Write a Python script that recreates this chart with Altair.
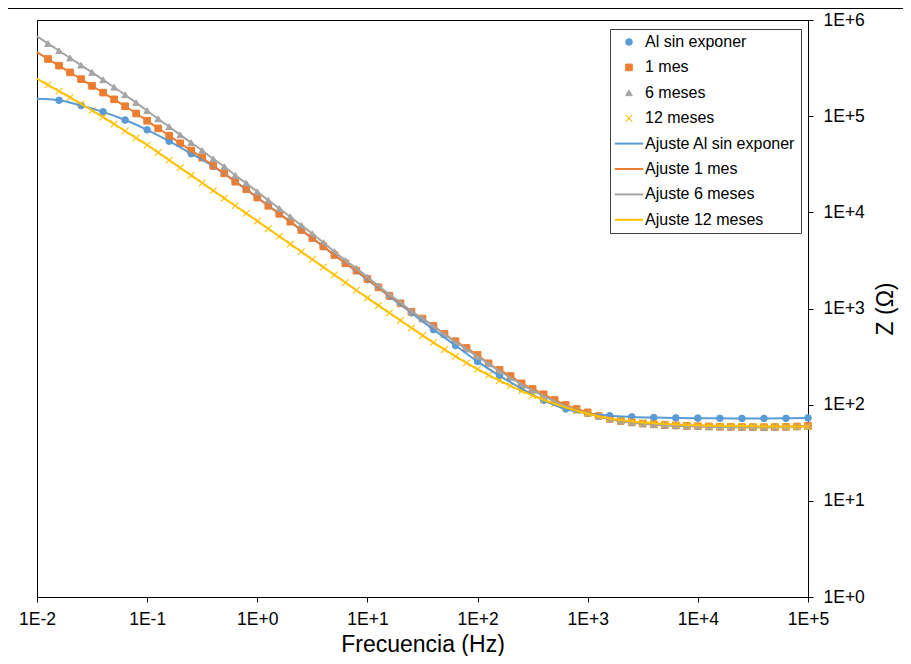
import altair as alt
import pandas as pd

# Frequency grids (exponents of 10): 10 points per decade, and 5 per decade for "Al sin exponer"
freq_exp_dense = [round(-2.0 + 0.1 * i, 1) for i in range(71)]
freq_exp_sparse = [round(-2.0 + 0.2 * i, 1) for i in range(36)]

# log10 |Z|
log_z_al = [5.18, 5.165, 5.11, 5.045, 4.96, 4.858, 4.74, 4.61, 4.478, 4.32,
            4.154, 3.985, 3.815, 3.643, 3.47, 3.30, 3.125, 2.955, 2.78, 2.615,
            2.448, 2.30, 2.168, 2.045, 1.955, 1.91, 1.885, 1.873, 1.866, 1.862,
            1.86, 1.858, 1.857, 1.857, 1.858, 1.862]

log_z_1mes = [5.665, 5.595, 5.525, 5.455, 5.385, 5.315, 5.245, 5.175, 5.103, 5.028,
              4.952, 4.873, 4.797, 4.718, 4.643, 4.568, 4.484, 4.406, 4.319, 4.24,
              4.154, 4.068, 3.985, 3.903, 3.816, 3.732, 3.646, 3.556, 3.47, 3.393,
              3.307, 3.22, 3.133, 3.054, 2.967, 2.895, 2.818, 2.735, 2.66, 2.59,
              2.517, 2.43, 2.361, 2.298, 2.222, 2.163, 2.108, 2.049, 1.997, 1.955,
              1.92, 1.882, 1.851, 1.83, 1.815, 1.803, 1.795, 1.788, 1.783, 1.779,
              1.776, 1.773, 1.77, 1.768, 1.767, 1.766, 1.766, 1.767, 1.769, 1.773,
              1.78]

log_z_6meses = [5.83, 5.755, 5.68, 5.605, 5.53, 5.455, 5.378, 5.301, 5.222, 5.14,
                5.057, 4.972, 4.89, 4.805, 4.724, 4.643, 4.556, 4.475, 4.385, 4.303,
                4.214, 4.125, 4.039, 3.954, 3.864, 3.777, 3.686, 3.591, 3.50, 3.418,
                3.327, 3.236, 3.145, 3.062, 2.971, 2.895, 2.815, 2.729, 2.651, 2.578,
                2.502, 2.425, 2.35, 2.28, 2.212, 2.148, 2.09, 2.035, 1.985, 1.943,
                1.908, 1.876, 1.85, 1.83, 1.815, 1.803, 1.794, 1.787, 1.781, 1.777,
                1.773, 1.77, 1.768, 1.766, 1.765, 1.765, 1.765, 1.766, 1.768, 1.771,
                1.776]

log_z_12meses = [5.39, 5.325, 5.26, 5.195, 5.128, 5.06, 4.99, 4.918, 4.846, 4.773,
                 4.70, 4.622, 4.543, 4.464, 4.385, 4.305, 4.226, 4.147, 4.068, 3.989,
                 3.91, 3.83, 3.75, 3.67, 3.59, 3.51, 3.43, 3.35, 3.27, 3.19,
                 3.11, 3.032, 2.954, 2.876, 2.798, 2.72, 2.645, 2.573, 2.503, 2.435,
                 2.37, 2.308, 2.25, 2.195, 2.143, 2.095, 2.05, 2.009, 1.971, 1.937,
                 1.906, 1.879, 1.857, 1.84, 1.826, 1.815, 1.806, 1.799, 1.793, 1.789,
                 1.785, 1.782, 1.78, 1.778, 1.776, 1.775, 1.774, 1.773, 1.772, 1.772,
                 1.772]

series_names = ["Al sin exponer", "1 mes", "6 meses", "12 meses"]
fit_names = ["Ajuste Al sin exponer", "Ajuste 1 mes", "Ajuste 6 meses", "Ajuste 12 meses"]
series_colors = ["#5B9BD5", "#ED7D31", "#A5A5A5", "#FFC000"]
marker_shapes = ["circle", "square", "triangle-up", "M-1,-1L1,1M-1,1L1,-1"]
fit_shape = "M-4.3,0H4.3"   # a horizontal line segment for the legend
marker_size = 44

x_ticks = [1e-2, 1e-1, 1e0, 1e1, 1e2, 1e3, 1e4, 1e5]
y_ticks = [1e0, 1e1, 1e2, 1e3, 1e4, 1e5, 1e6]

exps_list = [freq_exp_sparse, freq_exp_dense, freq_exp_dense, freq_exp_dense]
logs_list = [log_z_al, log_z_1mes, log_z_6meses, log_z_12meses]

frames = []
for k, (exps, logs) in enumerate(zip(exps_list, logs_list)):
    frames.append(pd.DataFrame({
        "f": [10 ** e for e in exps],
        "z": [10 ** v for v in logs],
        "serie": series_names[k],
        "order": k,
    }))
all_df = pd.concat(frames, ignore_index=True)
points_df = all_df[all_df["f"] > 0.0105].reset_index(drop=True)
points_df["idx"] = range(len(points_df))

legend_domain = series_names + fit_names
legend_colors = series_colors + series_colors
legend_shapes = marker_shapes + [fit_shape] * 4
legend_widths = [1, 1, 1, 1.1] + [2] * 4

label_expr = ("'1E' + (round(log(datum.value)/LN10) >= 0 ? '+' : '') + "
              "round(log(datum.value)/LN10)")

x_scale = alt.Scale(type="log", domain=[1e-2, 1e5], nice=False)
y_scale = alt.Scale(type="log", domain=[1, 1e6], nice=False)

x_axis = alt.Axis(values=x_ticks, labelExpr=label_expr, title="Frecuencia (Hz)",
                  titleFontSize=23, titleFontWeight="normal", labelFontSize=17.5,
                  tickSize=5, tickColor="black", domainColor="black",
                  labelColor="black", titleColor="black", grid=False,
                  labelPadding=8, titlePadding=6, labelFlush=False,
                  labelOverlap=False, labelBound=False)
y_axis = alt.Axis(orient="right", values=y_ticks, labelExpr=label_expr, title="Z (Ω)",
                  titleFontSize=23, titleFontWeight="normal", labelFontSize=17.5,
                  tickSize=5, tickColor="black", domainColor="black",
                  labelColor="black", titleColor="black", grid=False,
                  labelPadding=10, titlePadding=10, titleAngle=270, titleBaseline="top",
                  labelOverlap=False, labelBound=False, labelFlush=False)

x_enc = alt.X("f:Q", scale=x_scale, axis=x_axis)
y_enc = alt.Y("z:Q", scale=y_scale, axis=y_axis)

legend_cfg = alt.Legend(title=None, orient="none", legendX=573, legendY=9,
                        padding=5, strokeColor="#404040", fillColor="white",
                        labelFont="Liberation Sans", labelFontSize=16, labelColor="black",
                        symbolOffset=6, labelOffset=8, rowPadding=9.4, symbolOpacity=1,
                        symbolSize=marker_size, cornerRadius=0, labelLimit=300)

points = alt.Chart(points_df).mark_point(filled=True, opacity=1, size=marker_size).encode(
    x=x_enc,
    y=y_enc,
    fill=alt.Fill("serie:N", scale=alt.Scale(domain=legend_domain, range=legend_colors),
                  legend=legend_cfg),
    stroke=alt.Stroke("serie:N", scale=alt.Scale(domain=legend_domain, range=legend_colors),
                      legend=legend_cfg),
    shape=alt.Shape("serie:N", scale=alt.Scale(domain=legend_domain, range=legend_shapes),
                    legend=legend_cfg),
    strokeWidth=alt.StrokeWidth("serie:N", scale=alt.Scale(type="ordinal", domain=legend_domain,
                                                           range=legend_widths),
                                legend=legend_cfg),
    order=alt.Order("idx:Q"),
)

lines = []
for k in range(4):
    sub = all_df[all_df["serie"] == series_names[k]]
    lines.append(
        alt.Chart(sub).mark_line(color=series_colors[k], strokeWidth=2,
                                 interpolate="monotone").encode(x=x_enc, y=y_enc)
    )

frame = alt.Chart(pd.DataFrame({"a": [0]})).mark_rule(color="black", strokeWidth=1).encode(
    x=alt.value(-29), x2=alt.value(866), y=alt.value(-11.5)
)

chart = alt.layer(points, *lines, frame).properties(
    width=771, height=577,
    autosize=alt.AutoSizeParams(type="none"),
    padding={"left": 29, "top": 12, "right": 95, "bottom": 59},
).configure(font="Liberation Sans").configure_view(stroke="black", strokeWidth=1)

chart.save("out.html", embed_options={"renderer": "svg", "actions": False})
